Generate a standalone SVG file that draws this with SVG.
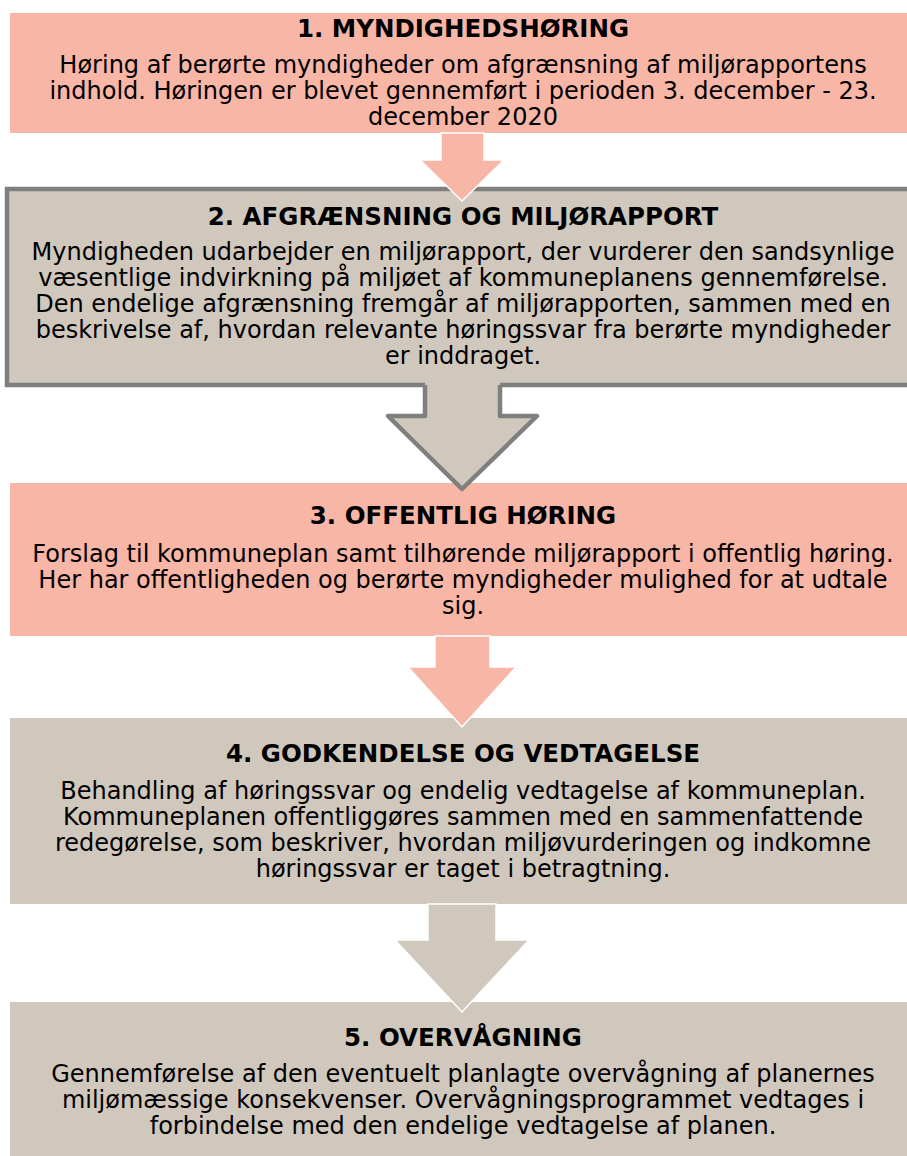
<svg xmlns="http://www.w3.org/2000/svg" width="907" height="1156" viewBox="0 0 907 1156">
<style>
.salmon{fill:#F8B6A7}
.gray{fill:#D0C8BD}
.h{font-family:"DejaVu Sans",Verdana,sans-serif;font-weight:bold;font-size:24.5px;fill:#000;text-anchor:middle}
.t{font-family:"DejaVu Sans",Verdana,sans-serif;font-size:24px;fill:#000;text-anchor:middle}
</style>
<rect width="907" height="1156" fill="#fff"/>
<g id="node1">
<rect class="salmon" x="10" y="13" width="905" height="120"/>
<text class="h" x="463" y="37">1. MYNDIGHEDSHØRING</text>
<text class="t" x="463" y="73">Høring af berørte myndigheder om afgrænsning af miljørapportens</text>
<text class="t" x="463" y="99">indhold. Høringen er blevet gennemført i perioden 3. december - 23.</text>
<text class="t" x="463" y="125">december 2020</text>
</g>
<g id="node2">
<rect class="gray" x="7" y="189" width="920" height="196" stroke="#7F7F7F" stroke-width="4.5"/>
<text class="h" x="463" y="225">2. AFGRÆNSNING OG MILJØRAPPORT</text>
<text class="t" x="463" y="260">Myndigheden udarbejder en miljørapport, der vurderer den sandsynlige</text>
<text class="t" x="463" y="286">væsentlige indvirkning på miljøet af kommuneplanens gennemførelse.</text>
<text class="t" x="463" y="312">Den endelige afgrænsning fremgår af miljørapporten, sammen med en</text>
<text class="t" x="463" y="338">beskrivelse af, hvordan relevante høringssvar fra berørte myndigheder</text>
<text class="t" x="463" y="364">er inddraget.</text>
</g>
<g id="node3">
<rect class="salmon" x="10" y="483" width="905" height="153"/>
<text class="h" x="463" y="524">3. OFFENTLIG HØRING</text>
<text class="t" x="463" y="562">Forslag til kommuneplan samt tilhørende miljørapport i offentlig høring.</text>
<text class="t" x="463" y="588">Her har offentligheden og berørte myndigheder mulighed for at udtale</text>
<text class="t" x="463" y="614">sig.</text>
</g>
<g id="node4">
<rect class="gray" x="10" y="718" width="905" height="186"/>
<text class="h" x="463" y="762">4. GODKENDELSE OG VEDTAGELSE</text>
<text class="t" x="463" y="799">Behandling af høringssvar og endelig vedtagelse af kommuneplan.</text>
<text class="t" x="463" y="825">Kommuneplanen offentliggøres sammen med en sammenfattende</text>
<text class="t" x="463" y="851">redegørelse, som beskriver, hvordan miljøvurderingen og indkomne</text>
<text class="t" x="463" y="877">høringssvar er taget i betragtning.</text>
</g>
<g id="node5">
<rect class="gray" x="10" y="1002" width="905" height="160"/>
<text class="h" x="463" y="1046">5. OVERVÅGNING</text>
<text class="t" x="463" y="1082">Gennemførelse af den eventuelt planlagte overvågning af planernes</text>
<text class="t" x="463" y="1108">miljømæssige konsekvenser. Overvågningsprogrammet vedtages i</text>
<text class="t" x="463" y="1134">forbindelse med den endelige vedtagelse af planen.</text>
</g>
<g id="connectors">
<polygon class="salmon" points="441,133 484,133 484,160 504,160 462,201 420,160 441,160" stroke="#fff" stroke-width="1.5"/>
<polygon class="gray" points="425,382 500,382 500,416 537,416 462,489 388,416 425,416"/>
<polyline points="425,385 425,416 388,416 462,489 537,416 500,416 500,385" fill="none" stroke="#7F7F7F" stroke-width="4.5" stroke-linejoin="round"/>
<polygon class="salmon" points="435,636 490,636 490,667 516,667 462,727 408,667 435,667" stroke="#fff" stroke-width="1.5"/>
<polygon class="gray" points="428,904 496,904 496,940 529,940 462,1012 395,940 428,940" stroke="#fff" stroke-width="1.5"/>
</g>
</svg>
